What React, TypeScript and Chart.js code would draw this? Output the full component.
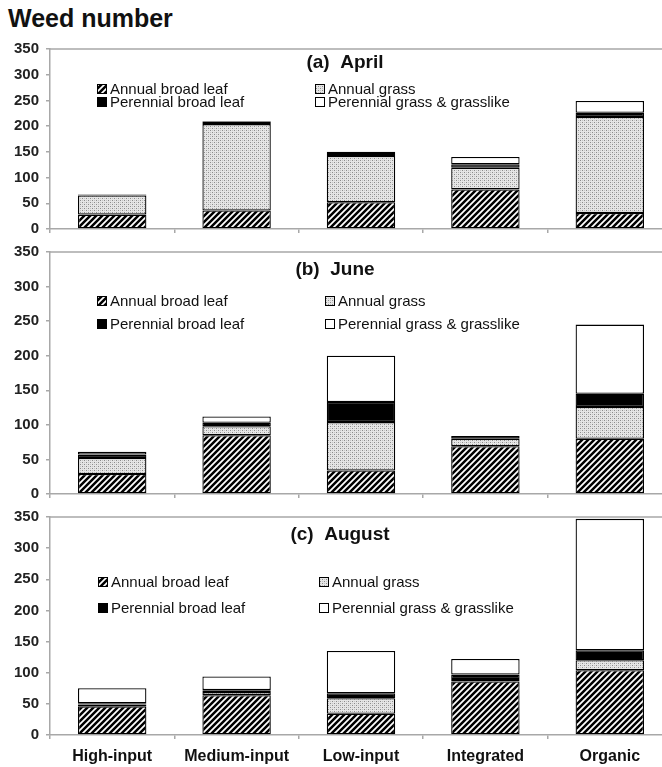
import React, { useEffect, useRef } from "react";
import { Chart, registerables } from "chart.js";
Chart.register(...registerables);

const categories = ["High-input", "Medium-input", "Low-input", "Integrated", "Organic"];
const seriesNames = ["Annual broad leaf", "Annual grass", "Perennial broad leaf", "Perennial grass & grasslike"];
const yTickValues = [0, 50, 100, 150, 200, 250, 300, 350];

const aprilAnnualBroadLeaf = [28, 36, 52, 77, 31];
const aprilAnnualGrass = [37, 168, 90, 42, 187];
const aprilPerennialBroadLeaf = [2, 5, 4, 7, 8];
const aprilPerennialGrass = [0, 1, 4, 14, 23];

const juneAnnualBroadLeaf = [29, 85, 34, 69, 80];
const juneAnnualGrass = [23, 13, 70, 11, 46];
const junePerennialBroadLeaf = [5, 5, 29, 4, 19];
const junePerennialGrass = [4, 9, 67, 0, 100];

const augustAnnualBroadLeaf = [46, 64, 34, 86, 104];
const augustAnnualGrass = [3, 5, 25, 4, 16];
const augustPerennialBroadLeaf = [2, 3, 8, 7, 16];
const augustPerennialGrass = [24, 22, 68, 25, 211];

const FONT = "'Liberation Sans', Arial, sans-serif";
const CANVAS_W = 672;

function makeHatch(): CanvasPattern | string {
  const c = document.createElement("canvas");
  c.width = 6;
  c.height = 6;
  const ctx = c.getContext("2d");
  if (!ctx) return "#666";
  ctx.fillStyle = "#fff";
  ctx.fillRect(0, 0, 6, 6);
  ctx.strokeStyle = "#000";
  ctx.lineWidth = 2.5;
  ctx.beginPath();
  ctx.moveTo(-1, 7);
  ctx.lineTo(7, -1);
  ctx.moveTo(-4, 4);
  ctx.lineTo(4, -4);
  ctx.moveTo(2, 10);
  ctx.lineTo(10, 2);
  ctx.stroke();
  return ctx.createPattern(c, "repeat") || "#666";
}

function makeStipple(): CanvasPattern | string {
  const c = document.createElement("canvas");
  c.width = 4;
  c.height = 4;
  const ctx = c.getContext("2d");
  if (!ctx) return "#ccc";
  ctx.fillStyle = "#e6e6e6";
  ctx.fillRect(0, 0, 4, 4);
  ctx.fillStyle = "#8c8c8c";
  ctx.fillRect(0, 0, 1, 1);
  ctx.fillRect(2, 2, 1, 1);
  ctx.fillStyle = "#c4c4c4";
  ctx.fillRect(2, 0, 1, 1);
  ctx.fillRect(0, 2, 1, 1);
  return ctx.createPattern(c, "repeat") || "#ccc";
}

type PanelSpec = {
  title: string;
  series: number[][];
  top: number;
  height: number;
  padTop: number;
  xHeight: number;
  showX: boolean;
  titleY: number;
  titleX: number;
  legendRows: number[];
  legendCols: number[];
  legendSize: number;
};

const panels: PanelSpec[] = [
  {
    title: "(a)  April",
    series: [aprilAnnualBroadLeaf, aprilAnnualGrass, aprilPerennialBroadLeaf, aprilPerennialGrass],
    top: 0,
    height: 245,
    padTop: 49,
    xHeight: 10,
    showX: false,
    titleY: 63,
    titleX: 345,
    legendRows: [89, 102],
    legendCols: [97, 315],
    legendSize: 15,
  },
  {
    title: "(b)  June",
    series: [juneAnnualBroadLeaf, juneAnnualGrass, junePerennialBroadLeaf, junePerennialGrass],
    top: 236,
    height: 274,
    padTop: 11,
    xHeight: 10,
    showX: false,
    titleY: 34,
    titleX: 335,
    legendRows: [65, 88],
    legendCols: [97, 325],
    legendSize: 15,
  },
  {
    title: "(c)  August",
    series: [augustAnnualBroadLeaf, augustAnnualGrass, augustPerennialBroadLeaf, augustPerennialGrass],
    top: 501,
    height: 266,
    padTop: 12,
    xHeight: 32,
    showX: true,
    titleY: 34,
    titleX: 340,
    legendRows: [81, 107],
    legendCols: [98, 319],
    legendSize: 15,
  },
];

function Panel({ spec }: { spec: PanelSpec }) {
  const ref = useRef<HTMLCanvasElement | null>(null);
  useEffect(() => {
    const canvas = ref.current;
    if (!canvas) return;
    const fills = [makeHatch(), makeStipple(), "#000000", "#ffffff"];

    const overlay = {
      id: "overlay",
      afterDraw(chart: any) {
        const { ctx, chartArea } = chart;
        ctx.save();
        ctx.strokeStyle = "#a8a8a8";
        ctx.lineWidth = 1.5;
        ctx.beginPath();
        ctx.moveTo(chartArea.left, chartArea.top);
        ctx.lineTo(chartArea.right, chartArea.top);
        ctx.lineTo(chartArea.right, chartArea.bottom);
        ctx.stroke();
        ctx.fillStyle = "#111";
        ctx.font = `bold 19px ${FONT}`;
        ctx.textAlign = "center";
        ctx.textBaseline = "middle";
        ctx.fillText(spec.title, spec.titleX, spec.titleY);
        ctx.font = `${spec.legendSize}px ${FONT}`;
        ctx.textAlign = "left";
        chart.data.datasets.forEach((ds: any, i: number) => {
          const row = spec.legendRows[Math.floor(i / 2)];
          const col = spec.legendCols[i % 2];
          const s = 10;
          ctx.fillStyle = ds.backgroundColor;
          ctx.fillRect(col, row - s / 2, s, s);
          ctx.strokeStyle = "#000";
          ctx.lineWidth = 1;
          ctx.strokeRect(col + 0.5, row - s / 2 + 0.5, s - 1, s - 1);
          ctx.fillStyle = "#111";
          ctx.fillText(ds.label, col + 13, row + 1);
        });
        ctx.restore();
      },
    };

    const chart = new Chart(canvas, {
      type: "bar",
      data: {
        labels: categories,
        datasets: spec.series.map((vals, i) => ({
          label: seriesNames[i],
          data: vals,
          backgroundColor: fills[i] as any,
          borderColor: "#000",
          borderWidth: 1.3,
          borderSkipped: false,
          barPercentage: 0.55,
          categoryPercentage: 1,
        })),
      },
      options: {
        animation: false,
        responsive: false,
        devicePixelRatio: 1,
        layout: { padding: { top: spec.padTop, right: 0, left: 0, bottom: 0 } },
        plugins: {
          legend: { display: false },
          tooltip: { enabled: false },
          title: { display: false },
        },
        scales: {
          x: {
            stacked: true,
            grid: {
              offset: true,
              drawOnChartArea: false,
              drawTicks: true,
              tickLength: 4,
              color: "#a8a8a8",
              lineWidth: 1.5,
            },
            border: { color: "#a8a8a8", width: 1.5 },
            ticks: {
              display: spec.showX,
              color: "#111",
              font: { family: FONT, size: 16, weight: "bold" },
              padding: 8,
              maxRotation: 0,
              autoSkip: false,
            },
            afterFit: (scale: any) => {
              scale.height = spec.xHeight;
            },
          },
          y: {
            stacked: true,
            min: 0,
            max: 350,
            afterBuildTicks: (scale: any) => {
              scale.ticks = yTickValues.map((v) => ({ value: v }));
            },
            grid: {
              drawOnChartArea: false,
              drawTicks: true,
              tickLength: 4,
              color: "#a8a8a8",
              lineWidth: 1.5,
            },
            border: { color: "#a8a8a8", width: 1.5 },
            ticks: {
              color: "#222",
              font: { family: FONT, size: 15, weight: "bold" },
              padding: 7,
            },
            afterFit: (scale: any) => {
              scale.width = 50;
            },
          },
        },
      },
      plugins: [overlay],
    });
    return () => chart.destroy();
  }, [spec]);

  return (
    <canvas
      ref={ref}
      width={CANVAS_W}
      height={spec.height}
      style={{ position: "absolute", left: 0, top: spec.top, width: CANVAS_W, height: spec.height }}
    />
  );
}

export default function App() {
  return (
    <div
      style={{
        position: "fixed",
        left: 0,
        top: 0,
        width: 662,
        height: 767,
        overflow: "hidden",
        background: "#fff",
      }}
    >
      <div
        style={{
          position: "absolute",
          left: 8,
          top: 4,
          font: `bold 25px ${FONT}`,
          color: "#111",
          whiteSpace: "nowrap",
        }}
      >
        Weed number
      </div>
      {panels.map((p, i) => (
        <Panel key={i} spec={p} />
      ))}
    </div>
  );
}
